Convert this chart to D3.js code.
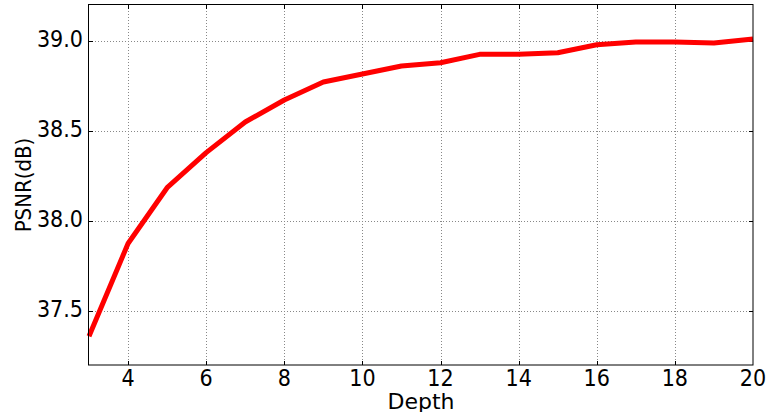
<!DOCTYPE html>
<html>
<head>
<meta charset="utf-8">
<script src="https://cdn.jsdelivr.net/npm/d3@7"></script>
<style>
  html, body { margin: 0; padding: 0; background: #fff; }
  svg { display: block; }
  text { font-family: "DejaVu Sans", sans-serif; fill: #000; }
</style>
</head>
<body>
<svg id="chart" width="768" height="412"></svg>
<script>
const depths = [3,4,5,6,7,8,9,10,11,12,13,14,15,16,17,18,19,20];
const psnr = [37.36,37.875,38.185,38.38,38.55,38.672,38.772,38.817,38.861,38.879,38.926,38.926,38.935,38.979,38.994,38.995,38.989,39.011];
const xTicks = [4,6,8,10,12,14,16,18,20];
const yTicks = [37.5,38.0,38.5,39.0];
const xLabel = "Depth";
const yLabel = "PSNR(dB)";

const svg = d3.select("#chart");
const L = 89, R = 753, T = 5, B = 365;
const x = d3.scaleLinear().domain([3,20]).range([L,R]);
const y = d3.scaleLinear().domain([37.2,39.2]).range([B,T]);

// grid
const grid = svg.append("g");
grid.selectAll("line.gx").data(xTicks.filter(d => d < 20)).enter().append("line")
  .attr("x1", d => Math.round(x(d)) + 0.5).attr("x2", d => Math.round(x(d)) + 0.5)
  .attr("y1", T).attr("y2", B)
  .attr("stroke", "#888").attr("stroke-width", 1).attr("stroke-dasharray", "1,2");
grid.selectAll("line.gy").data(yTicks).enter().append("line")
  .attr("y1", d => Math.round(y(d)) + 0.5).attr("y2", d => Math.round(y(d)) + 0.5)
  .attr("x1", L).attr("x2", R)
  .attr("stroke", "#888").attr("stroke-width", 1).attr("stroke-dasharray", "1,2");

// inward ticks
const ticks = svg.append("g").attr("stroke", "#000").attr("stroke-width", 1);
xTicks.filter(d => d < 20).forEach(d => {
  const px = Math.round(x(d)) + 0.5;
  ticks.append("line").attr("x1", px).attr("x2", px).attr("y1", B).attr("y2", B - 4);
  ticks.append("line").attr("x1", px).attr("x2", px).attr("y1", T).attr("y2", T + 4);
});
yTicks.forEach(d => {
  const py = Math.round(y(d)) + 0.5;
  ticks.append("line").attr("x1", L).attr("x2", L + 4).attr("y1", py).attr("y2", py);
  ticks.append("line").attr("x1", R).attr("x2", R - 4).attr("y1", py).attr("y2", py);
});

// data line
const line = d3.line().x((d,i) => x(depths[i])).y(d => y(d));
svg.append("path").datum(psnr)
  .attr("d", line)
  .attr("fill", "none")
  .attr("stroke", "#ff0000")
  .attr("stroke-width", 5)
  .attr("stroke-linejoin", "round")
  .attr("stroke-linecap", "butt");

// frame
svg.append("rect").attr("x", L - 0.5).attr("y", T - 0.5)
  .attr("width", R - L + 0.5).attr("height", B - T + 0.5)
  .attr("fill", "none").attr("stroke", "#000").attr("stroke-width", 1);

// tick labels
svg.append("g").selectAll("text").data(xTicks).enter().append("text")
  .attr("x", d => x(d)).attr("y", 386)
  .attr("text-anchor", "middle")
  .style("font-family", "'DejaVu Sans Condensed', 'DejaVu Sans', sans-serif")
  .style("font-size", "23px")
  .text(d => d);
svg.append("g").selectAll("text").data(yTicks).enter().append("text")
  .attr("x", 83).attr("y", d => y(d) + 6)
  .attr("text-anchor", "end")
  .style("font-family", "'DejaVu Sans Condensed', 'DejaVu Sans', sans-serif")
  .style("font-size", "23px")
  .text(d => d.toFixed(1));

// axis labels
svg.append("text").attr("x", (L + R) / 2).attr("y", 409)
  .attr("text-anchor", "middle")
  .style("font-size", "22px")
  .text(xLabel);
svg.append("text")
  .attr("transform", `translate(31,${(T + B) / 2}) rotate(-90)`)
  .attr("text-anchor", "middle")
  .style("font-family", "'DejaVu Sans Condensed', 'DejaVu Sans', sans-serif")
  .style("font-size", "22px")
  .text(yLabel);
</script>
</body>
</html>
